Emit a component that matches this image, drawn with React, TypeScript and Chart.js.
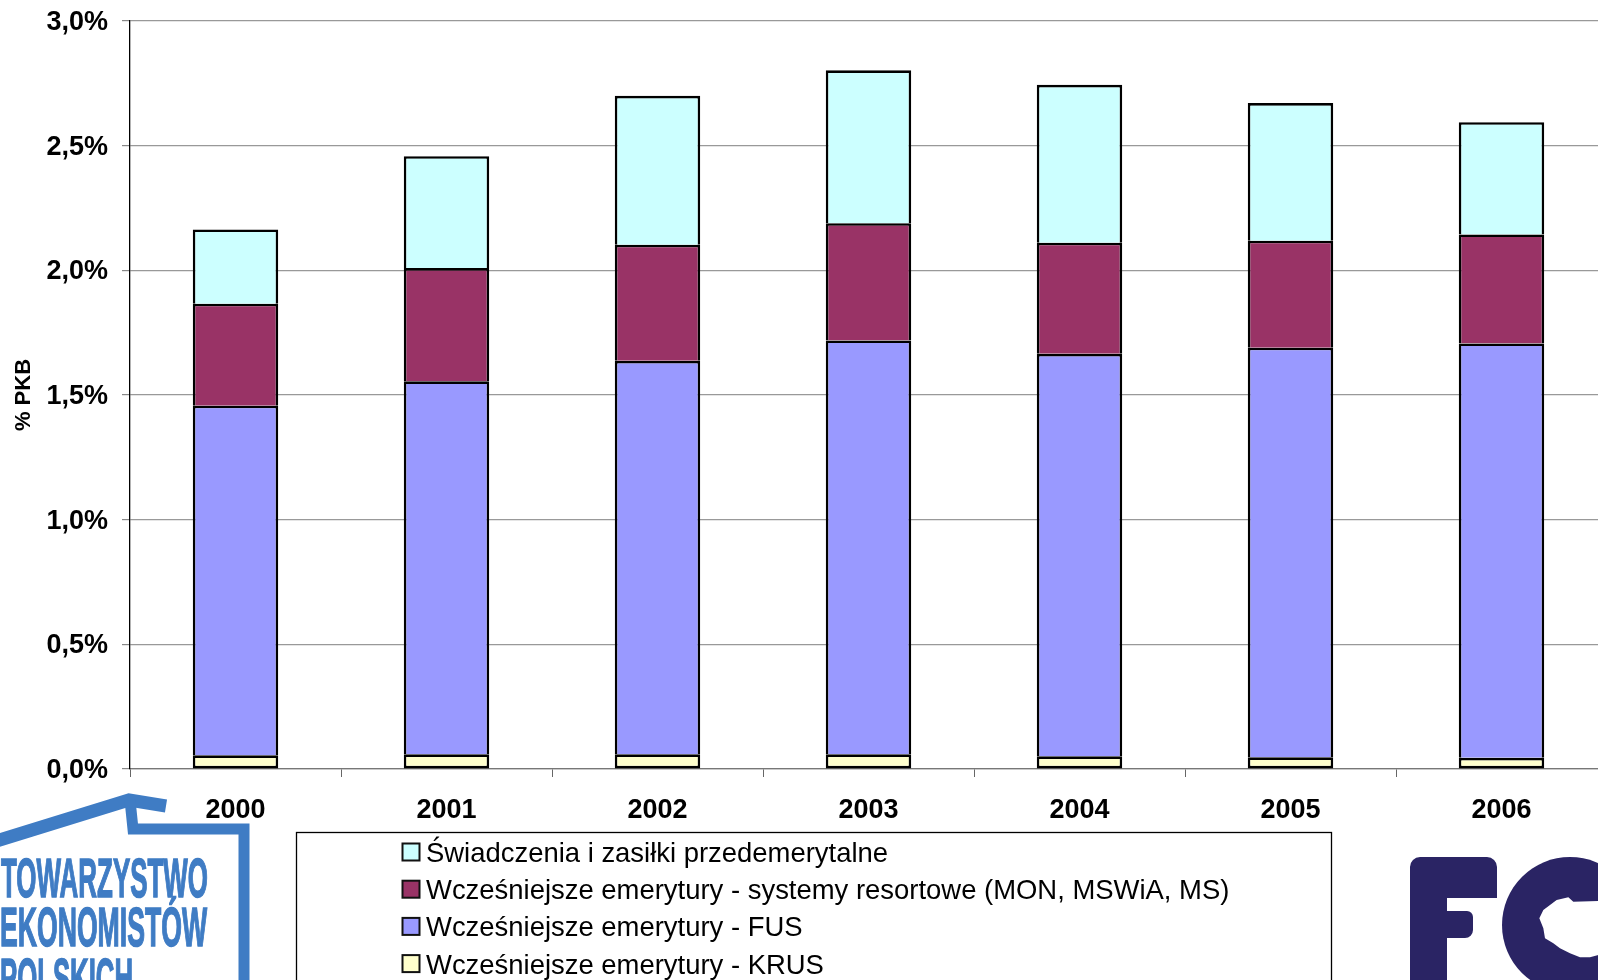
import React, { useEffect, useRef } from "react";
import { Chart, registerables } from "chart.js";

Chart.register(...registerables);

const years = ["2000", "2001", "2002", "2003", "2004", "2005", "2006"];
const krus = [0.055, 0.059, 0.059, 0.059, 0.051, 0.047, 0.045];
const fus = [1.402, 1.496, 1.578, 1.66, 1.614, 1.643, 1.662];
const resortowe = [0.409, 0.454, 0.466, 0.47, 0.446, 0.429, 0.437];
const swiadczenia = [0.298, 0.449, 0.597, 0.613, 0.633, 0.552, 0.45];

const labelKrus = "Wcześniejsze emerytury - KRUS";
const labelFus = "Wcześniejsze emerytury - FUS";
const labelRes = "Wcześniejsze emerytury - systemy resortowe (MON, MSWiA, MS)";
const labelSw = "Świadczenia i zasiłki przedemerytalne";
const yTitle = "% PKB";
const logoLines = ["TOWARZYSTWO", "EKONOMISTÓW", "POLSKICH"];

const FONT = '"Liberation Sans", Arial, sans-serif';

const overlay = {
  id: "overlay",
  afterDraw(chart: any) {
    const ctx = chart.ctx;
    ctx.save();

    // legend (reverse of stacking order)
    ctx.strokeStyle = "#000";
    ctx.lineWidth = 1.3;
    ctx.strokeRect(296.5, 832.5, 1035, 400);
    const sets = [...chart.data.datasets].reverse();
    ctx.font = `27.45px ${FONT}`;
    ctx.textBaseline = "middle";
    ctx.textAlign = "left";
    sets.forEach((d: any, i: number) => {
      const y = 843.5 + i * 37.2;
      ctx.fillStyle = d.backgroundColor;
      ctx.fillRect(402.5, y, 17, 17);
      ctx.strokeStyle = "#111";
      ctx.lineWidth = 2;
      ctx.strokeRect(402.5, y, 17, 17);
      ctx.fillStyle = "#000";
      ctx.fillText(d.label, 426, y + 11);
    });

    // TEP logo
    const blue = "#3f7cc4";
    ctx.strokeStyle = blue;
    ctx.lineWidth = 13;
    ctx.lineJoin = "miter";
    ctx.beginPath();
    ctx.moveTo(-10, 843);
    ctx.lineTo(129, 800);
    ctx.lineTo(166, 806);
    ctx.stroke();
    ctx.lineWidth = 11;
    ctx.beginPath();
    ctx.moveTo(130, 800);
    ctx.lineTo(133, 829);
    ctx.lineTo(244, 829);
    ctx.lineTo(244, 1010);
    ctx.stroke();
    ctx.fillStyle = blue;
    ctx.lineWidth = 1.5;
    ctx.textBaseline = "alphabetic";
    ctx.font = `bold 56px ${FONT}`;
    [[1, 897, 207], [0, 946, 207], [0, 997, 133]].forEach(([x, y, w], i) => {
      ctx.fillText(logoLines[i], x, y, w);
      ctx.strokeText(logoLines[i], x, y, w);
    });

    // FOR logo
    const navy = "#2a2464";
    ctx.fillStyle = navy;
    ctx.beginPath();
    ctx.moveTo(1420, 857);
    ctx.lineTo(1487, 857);
    ctx.arcTo(1497, 857, 1497, 867, 10);
    ctx.lineTo(1497, 898);
    ctx.lineTo(1447, 898);
    ctx.lineTo(1447, 911);
    ctx.lineTo(1467, 911);
    ctx.arcTo(1473, 911, 1473, 917, 6);
    ctx.lineTo(1473, 930);
    ctx.arcTo(1473, 938, 1465, 938, 8);
    ctx.lineTo(1447, 938);
    ctx.lineTo(1447, 1000);
    ctx.lineTo(1410, 1000);
    ctx.lineTo(1410, 867);
    ctx.arcTo(1410, 857, 1420, 857, 10);
    ctx.closePath();
    ctx.fill();
    ctx.beginPath();
    ctx.arc(1570, 925, 68, 0, Math.PI * 2);
    ctx.fill();
    const hole = [
      [625, 183], [550, 185], [535, 172], [500, 180], [480, 195], [460, 210], [448, 235],
      [460, 265], [465, 295], [490, 310], [510, 325], [540, 340], [570, 352], [600, 352], [625, 345],
    ];
    ctx.fillStyle = "#fff";
    ctx.beginPath();
    hole.forEach(([x, y], i) => {
      const px = 1390 + x / 3;
      const py = 840 + y / 3;
      if (i === 0) ctx.moveTo(px, py);
      else ctx.lineTo(px, py);
    });
    ctx.closePath();
    ctx.fill();

    ctx.restore();
  },
};

export default function App() {
  const ref = useRef<HTMLCanvasElement>(null);
  useEffect(() => {
    const bar = (label: string, data: number[], color: string, skipped: any = "start") => ({
      label,
      data,
      backgroundColor: color,
      borderColor: "#000",
      borderWidth: 2.6,
      borderSkipped: skipped,
      barPercentage: 0.81,
      categoryPercentage: 0.5,
    });
    const chart = new Chart(ref.current as HTMLCanvasElement, {
      type: "bar",
      data: {
        labels: years,
        datasets: [
          bar(labelKrus, krus, "#FFFFCC", false),
          bar(labelFus, fus, "#9999FF"),
          bar(labelRes, resortowe, "#993366"),
          bar(labelSw, swiadczenia, "#CCFFFF"),
        ],
      },
      plugins: [overlay],
      options: {
        animation: false,
        responsive: false,
        devicePixelRatio: 1,
        layout: { padding: { top: 21, right: 93, left: 0, bottom: 0 } },
        plugins: { legend: { display: false }, tooltip: { enabled: false } },
        scales: {
          x: {
            stacked: true,
            offset: true,
            afterFit: (s: any) => {
              s.height = 331;
            },
            grid: { drawOnChartArea: false, drawTicks: true, tickLength: 8, tickColor: "#666", tickWidth: 1, offset: true },
            border: { color: "#777", width: 1.3 },
            ticks: {
              color: "#000",
              padding: 17,
              maxRotation: 0,
              font: { family: FONT, size: 27, weight: "bold" },
            },
          },
          y: {
            stacked: true,
            min: 0,
            max: 3,
            afterFit: (s: any) => {
              s.width = 130;
              s.paddingTop = 0;
              s.paddingBottom = 0;
            },
            grid: { color: "#999", lineWidth: 1.2, tickLength: 8, tickColor: "#888", tickWidth: 1.2 },
            border: { color: "#000", width: 1.3 },
            title: {
              display: true,
              text: yTitle,
              color: "#000",
              padding: { top: 11, bottom: 0 },
              font: { family: FONT, size: 22, weight: "bold" },
            },
            ticks: {
              stepSize: 0.5,
              color: "#000",
              padding: 14,
              labelOffset: 1.5,
              font: { family: FONT, size: 27, weight: "bold" },
              callback: (v: any) => Number(v).toFixed(1).replace(".", ",") + "%",
            },
          },
        },
      },
    } as any);
    return () => chart.destroy();
  }, []);
  return (
    <div style={{ position: "absolute", left: 0, top: 0, width: 1598, height: 980, overflow: "hidden", background: "#fff" }}>
      <canvas ref={ref} width={1700} height={1100} style={{ display: "block", width: 1700, height: 1100 }} />
    </div>
  );
}
